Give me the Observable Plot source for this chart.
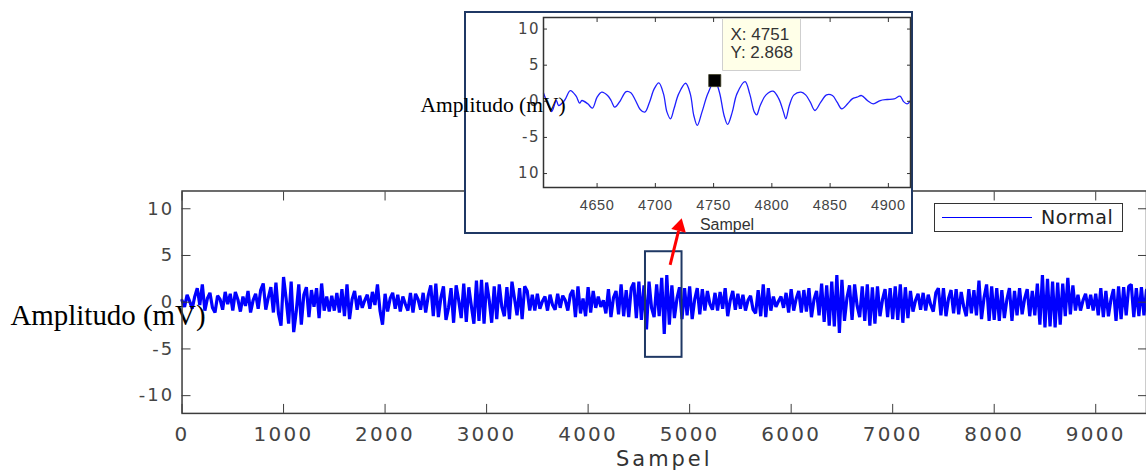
<!DOCTYPE html>
<html>
<head>
<meta charset="utf-8">
<script src="https://cdn.jsdelivr.net/npm/d3@7"></script>
<script src="https://cdn.jsdelivr.net/npm/@observablehq/plot@0.6"></script>
<style>
html, body { margin: 0; padding: 0; background: #fff; overflow: hidden; }
#wrap { position: relative; width: 1146px; height: 470px; overflow: hidden; background: #fff; }
#main, #overlay { position: absolute; left: 0; top: 0; }
#overlay { pointer-events: none; }
#insetBox { position: absolute; left: 464px; top: 11px; width: 449px; height: 223px; box-sizing: border-box;
  border: 2px solid #1f3864; background: #fff; overflow: visible; }
#insetBox svg { position: absolute; left: 0; top: 0; }
#legend { position: absolute; left: 934px; top: 203px; width: 189px; height: 29px; box-sizing: border-box;
  border: 1.5px solid #333; background: #fff; }
#legend .swatch { position: absolute; left: 7px; top: 13px; width: 90px; border-top: 1.5px solid #0000ff; }
#legend .name { position: absolute; left: 106px; top: 4px; font: 19px/19px "DejaVu Sans"; letter-spacing: 0.6px; color: #222; }
#main g[aria-label="x-axis tick label"] { letter-spacing: 2.3px; }
#main g[aria-label="y-axis tick label"] { letter-spacing: 2px; }
#main .xlabel-main { letter-spacing: 3px; }
#insetBox g[aria-label="x-axis tick label"] { letter-spacing: 0.6px; }
#insetBox g[aria-label="y-axis tick label"] { letter-spacing: 1.5px; }
</style>
</head>
<body>
<div id="wrap"></div>
<script>
// ---------------- data ----------------
const seriesName = "Normal";
const yLabel = "Amplitudo (mV)";
const xLabel = "Sampel";

// main signal: amplitude (mV) read every 25 samples, from sample 0 to 9500
const sampleStep = 25;
const mainValues = [
  0.2,-0.5,0.8,0.1,-0.7,0.6,1.5,-0.3,1.9,-0.9,0.4,1.0,-0.6,-1.1,0.7,0.3,-0.8,1.1,-0.2,0.9,
  -0.9,1.1,0.3,-1.0,0.6,-0.4,1.2,-1.1,0.2,0.9,-0.7,1.3,2.0,-0.8,0.5,1.6,-1.1,2.1,-1.2,-2.5,
  2.7,0.4,-2.3,2.2,-3.2,-1.0,1.9,-2.4,0.8,1.6,-1.6,1.3,-0.5,1.5,-1.7,2.0,-0.9,0.6,-1.0,0.7,
  -0.9,1.0,-1.1,1.4,-1.5,1.9,-1.8,0.3,1.2,-0.8,0.7,-0.6,0.2,0.8,-0.7,1.1,-0.3,1.9,-0.9,-2.4,
  0.9,-1.0,0.4,1.0,-0.7,0.8,-1.0,0.6,-0.2,-0.9,1.0,-1.1,0.9,0.3,-0.8,1.0,-1.1,0.7,1.8,-1.5,
  2.0,-1.6,0.5,1.7,-1.9,-0.6,1.5,-2.2,1.8,0.2,-1.7,2.0,-2.1,1.6,-0.4,-2.3,2.3,-2.0,2.4,-2.3,
  2.1,0.3,-2.2,1.7,-1.8,1.9,-0.5,-1.5,1.6,-1.8,2.2,0.4,-1.4,1.5,-1.8,1.7,1.2,-0.9,0.8,-0.9,
  0.9,-0.7,0.1,0.6,-0.9,0.8,-0.3,-0.8,0.9,-0.6,0.7,0.2,-0.9,0.8,1.3,-1.6,1.7,-1.2,0.4,-1.5,
  1.6,-1.1,1.2,-0.6,0.6,-0.5,0.2,-1.2,1.4,-1.6,0.5,1.2,-1.3,1.9,-1.5,1.3,-1.6,1.5,2.1,-1.7,
  2.2,-1.9,1.8,-2.9,2.2,-0.6,-1.6,1.9,-1.5,2.6,-3.4,2.9,-2.4,1.8,-1.7,0.4,1.6,-1.8,1.5,-1.4,
  1.7,-1.8,0.3,1.5,-1.3,1.4,-0.9,1.2,-0.2,-0.8,1.0,-0.9,1.1,-0.7,1.5,-1.5,0.2,1.2,-0.8,0.9,
  -0.7,0.8,-0.9,0.2,0.7,-0.8,-1.2,1.3,-1.5,1.9,-1.6,1.5,-0.9,0.6,-0.5,0.1,0.6,-0.6,1.0,-1.1,
  1.4,-0.9,0.4,1.2,-1.1,1.3,-1.0,1.5,-1.6,0.3,1.2,-1.4,2.0,-2.1,1.8,-2.5,2.2,-2.6,2.9,-3.3,
  2.4,-2.0,0.5,1.8,-1.9,1.9,-0.4,-1.6,1.7,-2.0,1.9,-2.5,1.6,-2.3,1.7,-1.5,0.3,1.4,-1.6,1.5,
  -1.8,1.7,-1.9,1.9,-2.2,1.6,-1.7,1.2,-1.0,0.2,0.9,-0.8,1.0,-0.9,0.8,-0.3,-1.0,1.0,1.5,-1.4,
  1.5,-1.5,0.4,1.3,-1.2,1.4,-1.3,1.1,-0.5,-1.5,1.4,-1.2,1.3,-1.4,2.3,-1.8,0.5,1.9,-2.0,1.7,
  -1.9,1.5,-2.0,1.3,-1.7,0.3,1.5,-2.0,1.2,-1.4,1.5,-1.3,0.4,1.4,-1.5,1.2,-1.4,2.0,-2.4,2.9,
  -2.7,2.5,-2.6,2.2,-2.7,2.1,-2.4,2.0,-1.5,2.6,-1.3,1.8,-0.9,0.8,-0.9,0.2,0.9,-0.7,0.8,-0.9,
  0.9,-1.4,1.5,-1.6,1.2,-1.5,0.3,1.4,-2.0,1.7,-1.8,1.6,-1.4,1.7,1.9,-1.6,1.5,-1.5,1.6,-1.4,
  1.3
];

// inset (zoomed) signal
const insetSamples = [4604,4607,4611,4615,4617,4622,4627,4632,4635,4637,4642,4646,4650,4654,4659,4662,4665,4667,4670,4675,
  4679,4683,4687,4691,4695,4699,4703,4707,4710,4713,4716,4720,4726,4730,4733,4736,4740,4745,4751,4755,
  4759,4762,4766,4770,4777,4781,4785,4787,4790,4795,4801,4806,4810,4812,4815,4819,4825,4829,4833,4837,
  4842,4847,4852,4856,4860,4865,4869,4873,4877,4882,4887,4893,4899,4905,4910,4913,4916,4919];
const insetValues = [1.15,-0.12,-1.41,0.11,-0.58,0.11,1.49,0.71,-0.26,0.11,-0.35,-0.95,0.57,1.26,0.80,0.11,-0.81,-0.58,0.11,1.35,
  1.17,0.11,-1.13,-1.50,-0.12,1.72,2.55,1.03,-1.50,-2.42,-1.04,1.03,2.50,1.03,-1.96,-3.34,-1.50,1.03,2.868,1.26,
  -1.96,-3.20,-1.50,1.03,2.73,1.03,-1.50,-1.87,-0.58,0.89,1.40,0.34,-1.50,-2.42,-0.58,0.89,1.26,0.89,-0.12,-1.27,
  -0.12,0.89,0.80,-0.12,-1.04,-0.35,0.34,0.57,0.80,0.11,-0.35,0.11,0.25,0.34,0.71,-0.03,-0.35,0.11];

// data tip
const tipSample = 4751;
const tipValue = 2.868;

// axes
const mainXDomain = [0, 9500];
const mainYDomain = [-11.9, 11.9];
const mainXTicks = [0,1000,2000,3000,4000,5000,6000,7000,8000,9000];
const mainYTicks = [-10,-5,0,5,10];
const mainYTickLabels = ["-10","-5","0","5","10"];
const insetXDomain = [4604, 4919];
const insetYDomain = [-11.93, 11.6];
const insetXTicks = [4650,4700,4750,4800,4850,4900];
const insetYTicks = [-10,-5,0,5,10];
const insetYTickLabels = ["10","-5","0","5","10"];

// zoom window marked on the main plot, and the arrow to the inset
const zoomX = [4565, 4925];
const zoomY = [-5.9, 5.4];
const arrowX = [4808, 4891];
const arrowY = [4.0, 7.64];
const arrowHead = [4901, 8.09];

// ---------------- drawing ----------------
const wrap = document.getElementById("wrap");
const mainData = mainValues.map((v, i) => ({sample: i * sampleStep, amp: v}));
const insetData = insetSamples.map((s, i) => ({sample: s, amp: insetValues[i]}));
const tipPoint = {sample: tipSample, amp: tipValue};
const plain = d => String(d);

const mainOpts = {
  width: 1149, height: 470,
  marginLeft: 182, marginRight: 0, marginTop: 191, marginBottom: 56,
  x: {domain: mainXDomain},
  y: {domain: mainYDomain}
};

const main = Plot.plot({
  ...mainOpts,
  style: {background: "#fff", overflow: "visible", color: "#3c3c3c"},
  marks: [
    Plot.line(mainData, {x: "sample", y: "amp", stroke: "#0000ff", strokeWidth: 3.2, strokeLinejoin: "bevel"}),
    Plot.rect([{x1: zoomX[0], x2: zoomX[1], y1: zoomY[0], y2: zoomY[1]}],
      {x1: "x1", x2: "x2", y1: "y1", y2: "y2", fill: "none", stroke: "#1f3864", strokeWidth: 2}),
    Plot.text([yLabel], {frameAnchor: "left", textAnchor: "start", lineAnchor: "bottom", dx: -172, dy: 22.5,
      fontFamily: "Liberation Serif", fontSize: 29, fill: "#000"}),
    Plot.text([xLabel], {frameAnchor: "bottom", lineAnchor: "bottom", dy: 53,
      fontFamily: "DejaVu Sans", fontSize: 21, fill: "#333", className: "xlabel-main"}),
    Plot.frame({stroke: "#3c3c3c", strokeWidth: 1.5}),
    Plot.axisX(mainXTicks, {anchor: "bottom", tickSize: -9, tickPadding: 22, fontSize: 20,
      fontFamily: "DejaVu Sans", fill: "#444", stroke: "#3c3c3c", label: null, tickFormat: plain}),
    Plot.axisX(mainXTicks, {anchor: "top", tickSize: -9, fill: "none", stroke: "#3c3c3c", label: null}),
    Plot.axisY(mainYTicks, {anchor: "left", tickSize: -9, tickPadding: 17, fontSize: 18,
      fontFamily: "DejaVu Sans", fill: "#444", stroke: "#3c3c3c", label: null,
      tickFormat: d => mainYTickLabels[mainYTicks.indexOf(d)]}),
    Plot.axisY(mainYTicks, {anchor: "right", tickSize: -9, fill: "none", stroke: "#3c3c3c", label: null})
  ]
});
main.id = "main";
wrap.appendChild(main);

// legend
const legend = document.createElement("div");
legend.id = "legend";
legend.innerHTML = '<div class="swatch"></div><span class="name"></span>';
legend.querySelector(".name").textContent = seriesName;
wrap.appendChild(legend);

// inset
const insetBox = document.createElement("div");
insetBox.id = "insetBox";
const inset = Plot.plot({
  width: 445, height: 219,
  marginLeft: 77, marginRight: 1, marginTop: 4, marginBottom: 45,
  x: {domain: insetXDomain},
  y: {domain: insetYDomain},
  style: {background: "transparent", overflow: "visible", color: "#333"},
  marks: [
    Plot.line(insetData, {x: "sample", y: "amp", stroke: "#1f1fff", strokeWidth: 1.3, curve: "catmull-rom"}),
    Plot.frame({stroke: "#333", strokeWidth: 1.5}),
    Plot.axisX(insetXTicks, {anchor: "bottom", tickSize: -4, tickPadding: 16, fontSize: 14.5,
      fontFamily: "Liberation Sans", fill: "#444", stroke: "#333", label: null, tickFormat: plain}),
    Plot.axisX(insetXTicks, {anchor: "top", tickSize: -4, fill: "none", stroke: "#333", label: null}),
    Plot.axisY(insetYTicks, {anchor: "left", tickSize: -4, tickPadding: 7.5, fontSize: 15,
      fontFamily: "DejaVu Sans", fill: "#444", stroke: "#333", label: null,
      tickFormat: d => insetYTickLabels[insetYTicks.indexOf(d)]}),
    Plot.axisY(insetYTicks, {anchor: "right", tickSize: -4, fill: "none", stroke: "#333", label: null}),
    Plot.text([yLabel], {frameAnchor: "left", textAnchor: "start", lineAnchor: "bottom", dx: -123, dy: 9,
      fontFamily: "Liberation Serif", fontSize: 21.5, fill: "#000"}),
    Plot.text([xLabel], {frameAnchor: "bottom", lineAnchor: "bottom", dy: 42,
      fontFamily: "Liberation Sans", fontSize: 16, fill: "#333"}),
    Plot.dot([tipPoint], {x: "sample", y: "amp", symbol: "square", r: 6.8, fill: "#000", stroke: "#3a3a20", strokeWidth: 0.8}),
    Plot.tip([tipPoint], {x: "sample", y: "amp", title: d => `X: ${d.sample}\nY: ${d.amp}`,
      anchor: "bottom-left", pointerSize: 0, dx: 8, dy: -10, fill: "#ffffe8", stroke: "#cfcfcf",
      fontSize: 17, fontFamily: "Liberation Sans", textPadding: 8, lineHeight: 1.02, pathFilter: "none"})
  ]
});
insetBox.appendChild(inset);
wrap.appendChild(insetBox);

// overlay arrow (on top of the inset)
const overlay = Plot.plot({
  ...mainOpts,
  x: {domain: mainXDomain, axis: null},
  y: {domain: mainYDomain, axis: null},
  style: {background: "transparent", overflow: "visible"},
  marks: [
    Plot.link([{x1: arrowX[0], x2: arrowX[1], y1: arrowY[0], y2: arrowY[1]}],
      {x1: "x1", x2: "x2", y1: "y1", y2: "y2", stroke: "#ff0000", strokeWidth: 3}),
    Plot.dot([{x: arrowHead[0], y: arrowHead[1]}], {x: "x", y: "y", symbol: "triangle", r: 5.6,
      fill: "#ff0000", rotate: 14})
  ]
});
overlay.id = "overlay";
wrap.appendChild(overlay);
</script>
</body>
</html>
